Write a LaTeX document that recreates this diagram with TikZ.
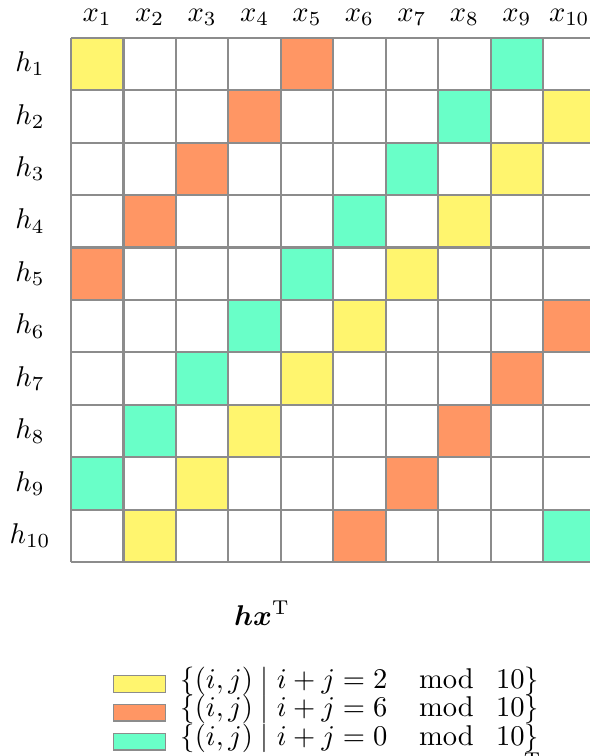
\documentclass[tikz,border=0pt]{standalone}
\usepackage{amsmath,bm}
\definecolor{cyel}{RGB}{255,245,110}
\definecolor{corg}{RGB}{255,150,100}
\definecolor{ccya}{RGB}{105,255,200}
\definecolor{gline}{RGB}{140,140,140}
\tikzset{
  gridline/.style={draw=gline,line width=0.75pt},
  swatch/.style={draw=gline,line width=0.45pt},
  lab/.style={anchor=base,inner sep=0pt},
}
\begin{document}
\begin{tikzpicture}[x=0.35pt,y=-0.35pt]
\useasboundingbox (0,0) rectangle (590,756);
\clip (0,0) rectangle (590,756);
\def\cw{52.45}
\foreach \i in {1,...,10}{
  \foreach \j in {1,...,10}{
    \pgfmathtruncatemacro\s{mod(\i+\j,10)}
    \ifnum\s=2 \def\cc{cyel}\else\ifnum\s=6 \def\cc{corg}\else\ifnum\s=0 \def\cc{ccya}\else\def\cc{white}\fi\fi\fi
    \fill[\cc] ({71+(\j-1)*\cw},{37.7+(\i-1)*\cw}) rectangle ({71+\j*\cw},{37.7+\i*\cw});
  }
}
\foreach \k in {0,...,10}{
  \draw[gridline] ({71+\k*\cw},37.7) -- ({71+\k*\cw},{37.7+10*\cw});
  \draw[gridline] (71,{37.7+\k*\cw}) -- ({71+10*\cw},{37.7+\k*\cw});
}
\foreach \j in {1,...,10}{
  \node[lab] (x\j) at ({71+(\j-0.5)*\cw},21) {$x_{\j}$};
}
\foreach \i in {1,...,10}{
  \node[lab] (h\i) at (30,{37.7+(\i-0.5)*\cw+7.7}) {$h_{\i}$};
}
\node[lab] (title) at (262,625) {$\bm{hx}^{\mathrm{T}}$};
\draw[swatch,fill=cyel] (113.3,675.7) rectangle (165.7,692.3);
\draw[swatch,fill=corg] (113.3,704.3) rectangle (165.7,721);
\draw[swatch,fill=ccya] (113.3,733.3) rectangle (165.7,750);
\node[anchor=base west,inner sep=0pt] (l1) at (180,688.3) {$\{(i,j) \mid i+j=2 \mkern20mu \mathrm{mod} \mkern14mu 10\}$};
\node[anchor=base west,inner sep=0pt] (l2) at (180,716.9) {$\{(i,j) \mid i+j=6 \mkern20mu \mathrm{mod} \mkern14mu 10\}$};
\node[anchor=base west,inner sep=0pt] (l3) at (180,745.6) {$\{(i,j) \mid i+j=0 \mkern20mu \mathrm{mod} \mkern14mu 10\}$};
\node[anchor=north,inner sep=0pt,font=\scriptsize] (tcut) at (532,752) {T};
\end{tikzpicture}
\end{document}
